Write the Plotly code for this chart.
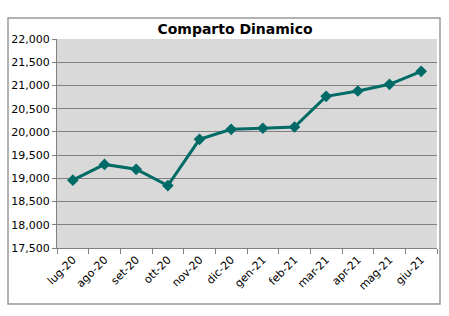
import plotly.graph_objects as go

months = ["lug-20", "ago-20", "set-20", "ott-20", "nov-20", "dic-20",
          "gen-21", "feb-21", "mar-21", "apr-21", "mag-21", "giu-21"]
values = [18960, 19300, 19195, 18845, 19840, 20055,
          20078, 20105, 20766, 20880, 21025, 21305]
title_text = "Comparto Dinamico"

L, R, T, B = 57, 12, 39, 68
W, H = 449, 316
pw, ph = W - L - R, H - T - B

def px_x(x):
    return (x - L) / pw

def px_y(y):
    return (H - B - y) / ph

fig = go.Figure()
fig.add_trace(go.Scatter(
    x=months, y=values, mode="lines+markers",
    line=dict(color="#006b66", width=3),
    marker=dict(symbol="diamond", size=9, color="#006b66"),
    hoverinfo="skip",
))

fig.update_layout(
    width=W, height=H,
    margin=dict(l=L, r=R, t=T, b=B, pad=0),
    paper_bgcolor="white",
    plot_bgcolor="#d9d9d9",
    showlegend=False,
    font=dict(family="DejaVu Sans", size=11, color="black"),
    title=dict(text="<b>" + title_text + "</b>", x=px_x(235), xref="paper",
               xanchor="center", y=1 - 29 / H, yanchor="middle",
               font=dict(family="DejaVu Sans", size=14, color="black")),
    xaxis=dict(
        type="category", tickson="boundaries", ticks="outside", ticklen=5,
        tickcolor="#808080", showline=True, linecolor="#808080", linewidth=1,
        showgrid=False, tickangle=-45, range=[-0.5, 11.5],
        tickfont=dict(size=11), zeroline=False,
    ),
    yaxis=dict(
        range=[17500, 22000], dtick=500, tickformat=",d",
        ticks="outside", ticklen=4, tickcolor="#808080",
        showline=True, linecolor="#808080", linewidth=1,
        showgrid=True, gridcolor="#808080", gridwidth=1,
        tickfont=dict(size=11), zeroline=False,
    ),
    shapes=[dict(type="rect", xref="paper", yref="paper",
                 x0=px_x(8), x1=px_x(440), y0=px_y(304), y1=px_y(18),
                 line=dict(color="#999999", width=1.5), layer="below")],
)

fig.write_html("out.html")
